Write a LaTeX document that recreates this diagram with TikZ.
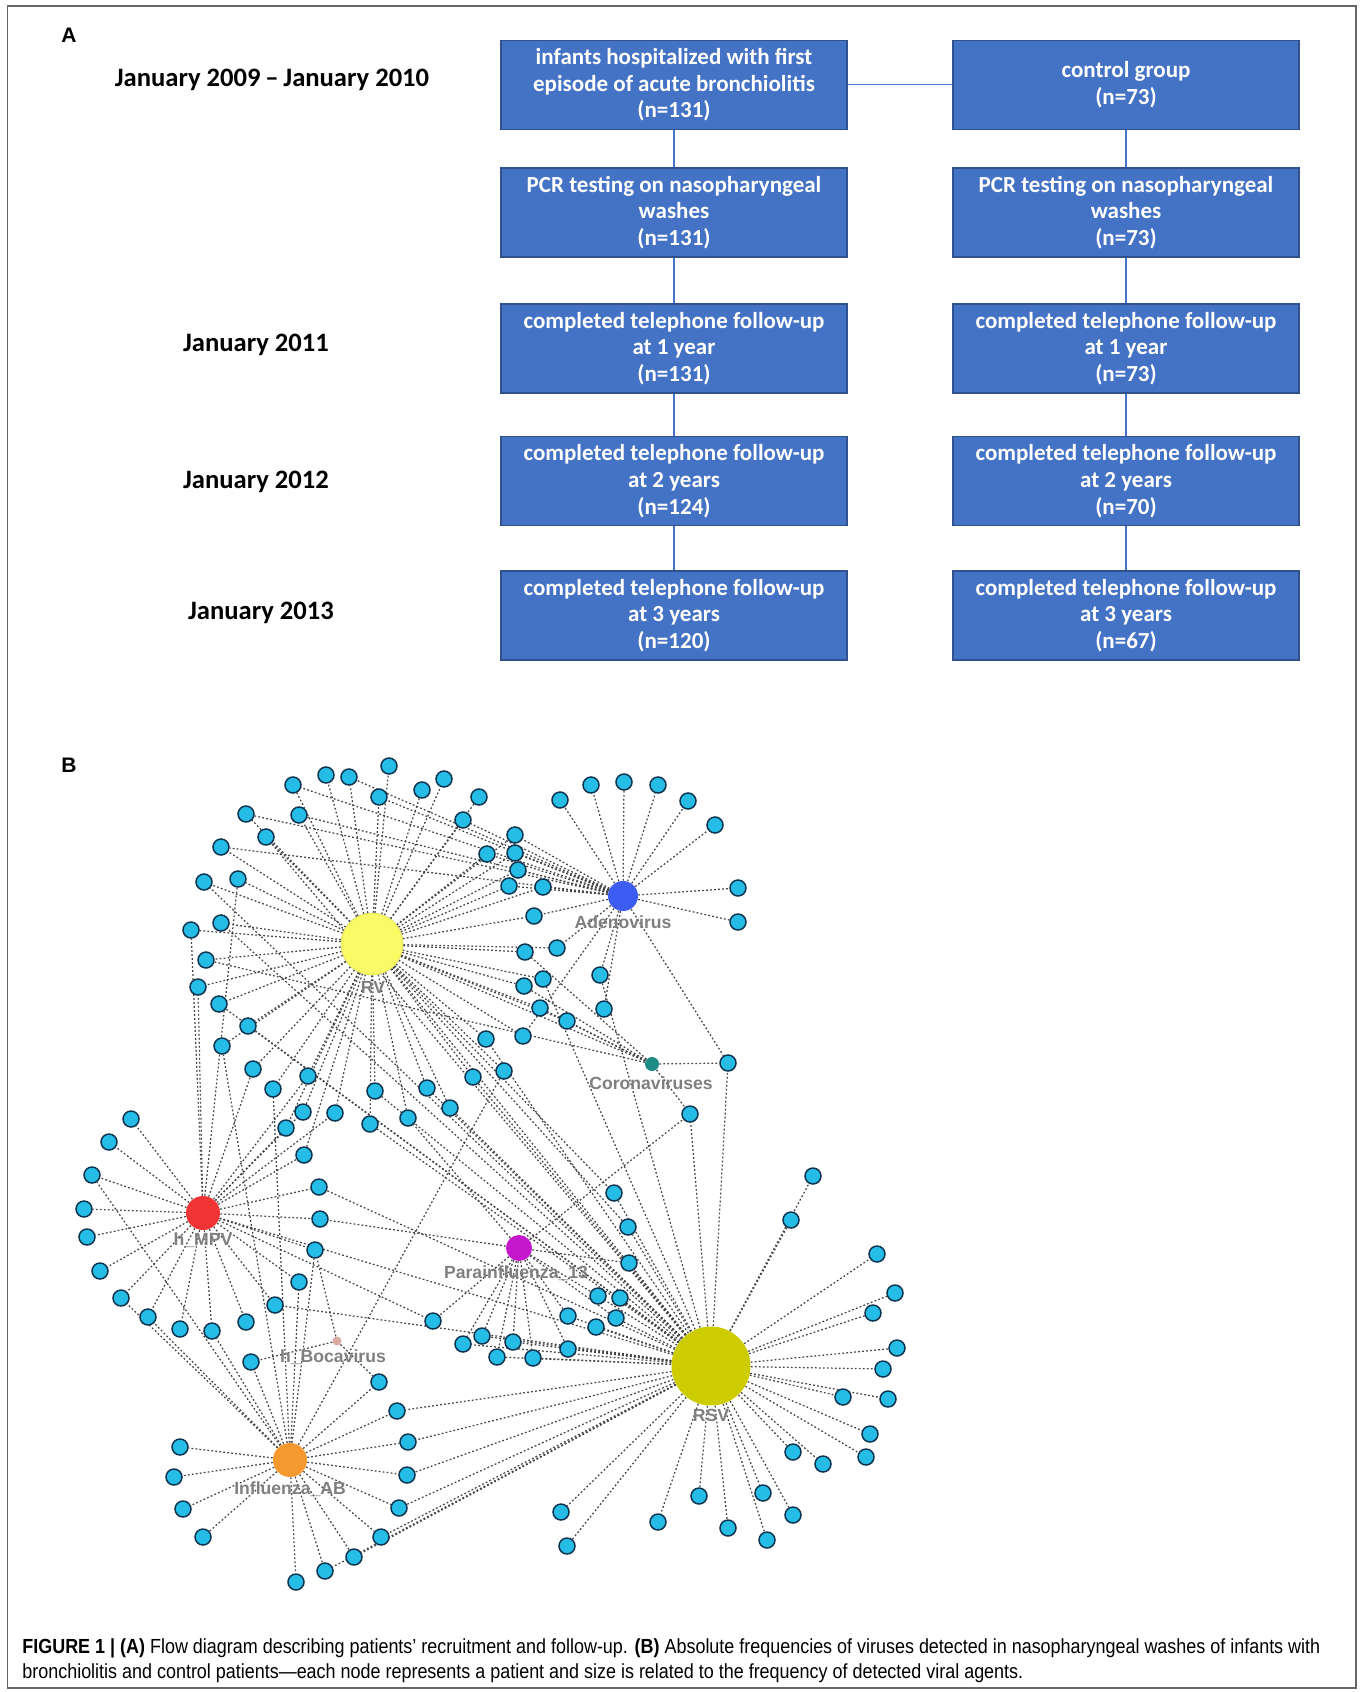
\documentclass[tikz,border=0pt]{standalone}
\usepackage{fontspec}
\setmainfont{Liberation Sans}
\newfontfamily\calib{Carlito}
\newfontfamily\capfont[FakeStretch=0.88]{Liberation Sans}
\pgfdeclarelayer{bg}
\pgfsetlayers{bg,main}
\definecolor{boxblue}{HTML}{4472C4}
\definecolor{boxedge}{HTML}{2F528F}
\definecolor{framecol}{HTML}{666666}
\definecolor{patfill}{HTML}{25BDE6}
\definecolor{patedge}{HTML}{0E3550}
\definecolor{lnkcol}{HTML}{444444}
\definecolor{labcol}{HTML}{7F7F7F}
\definecolor{rvcol}{HTML}{FAFA66}
\definecolor{adcol}{HTML}{3C5CF2}
\definecolor{cocol}{HTML}{1E8C86}
\definecolor{mpcol}{HTML}{F03434}
\definecolor{pacol}{HTML}{C416CC}
\definecolor{bocol}{HTML}{D9AAA2}
\definecolor{flcol}{HTML}{F5992E}
\definecolor{rscol}{HTML}{CCCC00}
\tikzset{
  fbox/.style={rectangle, fill=boxblue, draw=boxedge, line width=0.6pt,
    minimum width=173pt, minimum height=44.5pt, inner sep=0pt, text=white,
    align=center, font=\calib\bfseries\fontsize{11.5}{13.4}\selectfont},
  conn/.style={draw=boxblue, line width=0.6pt},
  datelab/.style={font=\calib\bfseries\fontsize{13.3}{15}\selectfont, inner sep=0pt},
  panel/.style={font=\bfseries\fontsize{10.5}{12}\selectfont, inner sep=0pt},
  pat/.style={circle, fill=patfill, draw=patedge, line width=0.75pt, minimum size=8pt, inner sep=0pt},
  hub/.style={circle, inner sep=0pt},
  hlab/.style={font=\bfseries\fontsize{8.8}{10}\selectfont, text=labcol, inner sep=0pt},
  lnk/.style={draw=lnkcol, line width=0.62pt, dash pattern=on 0.9pt off 1.1pt},
  captxt/.style={font=\capfont\fontsize{10.2}{12}\selectfont, inner sep=0pt, anchor=base west}
}
\begin{document}
\begin{tikzpicture}[x=0.5pt,y=-0.5pt]
\useasboundingbox (0,0) rectangle (1362,1692);
\draw[framecol, line width=0.7pt] (7.5,6) rectangle (1356,1688);

% ---------------- Panel A ----------------
\node[panel] (lA) at (69,35) {A};
\node[datelab] (d1) at (272,80) {January 2009\hspace{0.18em}–\hspace{0.18em}January 2010};
\node[datelab] (d2) at (256,345) {January 2011};
\node[datelab] (d3) at (256,482) {January 2012};
\node[datelab] (d4) at (261,613) {January 2013};

\node[fbox] (L1) at (674,84.75) {infants hospitalized with first\\episode of acute bronchiolitis\\(n=131)};
\node[fbox] (L2) at (674,212.5) {PCR testing on nasopharyngeal\\washes\\(n=131)};
\node[fbox] (L3) at (674,348.5) {completed telephone follow-up\\at 1 year\\(n=131)};
\node[fbox] (L4) at (674,481.25) {completed telephone follow-up\\at 2 years\\(n=124)};
\node[fbox] (L5) at (674,615.5) {completed telephone follow-up\\at 3 years\\(n=120)};
\node[fbox] (R1) at (1126,84.75) {control group\\(n=73)};
\node[fbox] (R2) at (1126,212.5) {PCR testing on nasopharyngeal\\washes\\(n=73)};
\node[fbox] (R3) at (1126,348.5) {completed telephone follow-up\\at 1 year\\(n=73)};
\node[fbox] (R4) at (1126,481.25) {completed telephone follow-up\\at 2 years\\(n=70)};
\node[fbox] (R5) at (1126,615.5) {completed telephone follow-up\\at 3 years\\(n=67)};
\draw[conn] (L1) -- (L2); \draw[conn] (L2) -- (L3); \draw[conn] (L3) -- (L4); \draw[conn] (L4) -- (L5);
\draw[conn] (R1) -- (R2); \draw[conn] (R2) -- (R3); \draw[conn] (R3) -- (R4); \draw[conn] (R4) -- (R5);
\draw[conn] (L1.east) -- (R1.west);

% ---------------- Panel B ----------------
\node[panel] (lB) at (69,765) {B};
\node[hub, fill=rvcol, draw=rvcol!85!black, line width=0.3pt, minimum size=31pt] (rv) at (372,944) {};
\node[hub, fill=adcol, minimum size=15pt] (ad) at (623,896) {};
\node[hub, fill=cocol, minimum size=7pt] (co) at (652,1064) {};
\node[hub, fill=mpcol, minimum size=17pt] (mp) at (203,1213) {};
\node[hub, fill=pacol, minimum size=13pt] (pa) at (519,1248) {};
\node[hub, fill=bocol, minimum size=4.5pt] (bo) at (337,1341) {};
\node[hub, fill=flcol, minimum size=17pt] (fl) at (290,1460) {};
\node[hub, fill=rscol, minimum size=39.5pt] (rs) at (711,1366) {};

\foreach \px/\py/\hs [count=\i] in {
 293/785/{rv,ad}, 326/775/{rv}, 349/777/{rv,ad}, 389/766/{rv}, 379/797/{rv,ad},
 422/790/{rv}, 444/779/{rv}, 479/797/{rv}, 463/820/{rv,ad}, 246/814/{rv,ad},
 299/815/{rv,ad}, 266/837/{rv,rs}, 221/847/{rv,ad}, 487/854/{rv,ad}, 515/835/{rv,ad},
 515/853/{rv,ad}, 518/870/{rv,ad}, 509/886/{rv,ad}, 543/887/{rv,ad}, 534/916/{rv,ad},
 204/882/{rv,rs}, 238/879/{rv,mp}, 191/930/{rv,mp}, 221/923/{rv,rs}, 206/960/{rv,co},
 198/987/{rv,mp}, 219/1004/{rv,rs}, 248/1026/{rv,rs}, 222/1046/{rv,fl}, 253/1069/{rv,mp},
 308/1076/{rv,mp}, 273/1089/{rv,fl}, 375/1091/{rv,rs}, 427/1088/{rv,rs}, 473/1077/{rv,rs},
 504/1071/{rv,fl}, 486/1039/{rv,rs}, 523/1036/{rv,ad}, 524/986/{rv,co}, 525/952/{rv,co},
 557/948/{rv,ad}, 543/979/{rv,rs}, 600/975/{ad,rs}, 604/1009/{ad}, 540/1008/{rv,co},
 567/1021/{rv,co}, 303/1112/{rv,mp}, 335/1113/{rv,mp}, 408/1118/{rv,pa}, 450/1108/{rv,rs},
 370/1124/{rv,rs}, 286/1128/{rv,mp}, 304/1155/{mp,rv},
 560/800/{ad}, 591/785/{ad}, 624/782/{ad}, 658/785/{ad}, 688/801/{ad}, 715/825/{ad},
 738/888/{ad}, 738/922/{ad}, 728/1063/{ad,co,rs}, 690/1114/{co,rs,pa},
 131/1119/{mp}, 109/1142/{mp}, 92/1175/{mp,fl}, 84/1209/{mp}, 87/1237/{mp},
 100/1271/{mp}, 121/1298/{mp,fl}, 148/1317/{mp,fl}, 180/1329/{mp}, 212/1331/{mp,fl},
 246/1322/{mp}, 275/1305/{mp,rs}, 299/1282/{mp,fl}, 315/1250/{mp,bo,fl}, 320/1219/{mp,pa},
 319/1187/{mp,rs}, 251/1362/{fl,bo},
 180/1447/{fl}, 174/1477/{fl}, 183/1509/{fl}, 203/1537/{fl}, 296/1582/{fl},
 325/1571/{fl,rs}, 354/1557/{fl,rs}, 381/1537/{fl,rs}, 399/1508/{fl,rs}, 407/1475/{fl,rs},
 408/1442/{fl,rs}, 397/1411/{fl,rs}, 379/1382/{fl,bo},
 433/1321/{pa,mp}, 463/1344/{pa,rs}, 482/1336/{pa,rs}, 497/1357/{pa,rs}, 513/1342/{pa,rs},
 533/1358/{rs,pa}, 568/1349/{rs,pa}, 568/1316/{rs,pa}, 596/1327/{rs}, 616/1318/{rs,pa},
 598/1296/{rs,pa}, 620/1298/{rs}, 614/1193/{rs,rv}, 628/1227/{rs,rv}, 629/1263/{rs,pa},
 813/1176/{rs}, 791/1220/{rs}, 877/1254/{rs}, 895/1293/{rs}, 873/1313/{rs},
 897/1348/{rs}, 883/1369/{rs}, 843/1397/{rs}, 888/1399/{rs}, 870/1434/{rs},
 793/1452/{rs}, 823/1464/{rs}, 866/1457/{rs}, 763/1493/{rs}, 793/1515/{rs},
 699/1496/{rs}, 658/1522/{rs}, 728/1528/{rs}, 767/1540/{rs}, 561/1512/{rs}, 567/1546/{rs}}{
  \node[pat] (p\i) at (\px,\py) {};
  \begin{pgfonlayer}{bg}
    \foreach \hb in \hs { \draw[lnk] (\hb) -- (p\i); }
  \end{pgfonlayer}
}
\begin{pgfonlayer}{bg}
  \draw[lnk] (rv) -- (co);
  \draw[lnk] (rv) -- (rs);
  \draw[lnk] (mp) -- (rs);
\end{pgfonlayer}

\node[hlab] (tRV) at (373,987) {RV};
\node[hlab] (tAD) at (623,922) {Adenovirus};
\node[hlab] (tCO) at (651,1083) {Coronaviruses};
\node[hlab] (tMP) at (203,1240) {h\_MPV};
\node[hlab] (tPA) at (516,1273) {Parainfluenza\_13};
\node[hlab] (tBO) at (333,1357) {h\_Bocavirus};
\node[hlab] (tFL) at (290,1489) {Influenza\_AB};
\node[hlab] (tRS) at (711,1415) {RSV};

% ---------------- Caption ----------------
\node[captxt] (cap1) at (22,1653) {\textbf{FIGURE 1 | (A)} Flow diagram describing patients’ recruitment and follow-up. \textbf{(B)} Absolute frequencies of viruses detected in nasopharyngeal washes of infants with};
\node[captxt] (cap2) at (22,1678) {bronchiolitis and control patients—each node represents a patient and size is related to the frequency of detected viral agents.};
\end{tikzpicture}
\end{document}
